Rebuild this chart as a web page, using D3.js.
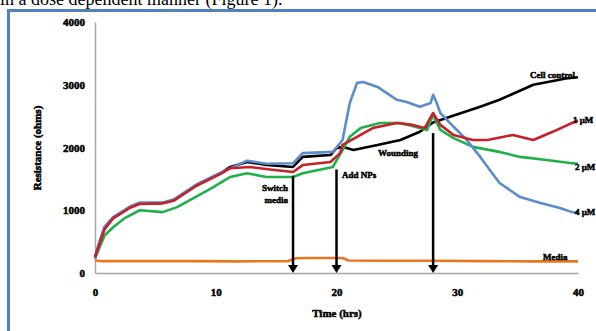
<!DOCTYPE html>
<html><head><meta charset="utf-8">
<script src="https://cdn.jsdelivr.net/npm/d3@7"></script>
<style>body{margin:0;background:#fff;overflow:hidden}svg{display:block}</style>
</head><body>
<script>
const xTicks = [0, 10, 20, 30, 40];
const yTicks = [0, 1000, 2000, 3000, 4000];
const seriesNames = ["Media", "Cell control", "1 \u03bcM", "2 \u03bcM", "4 \u03bcM"];

const mediaT = [0, 0.5, 4, 8, 12, 16, 16.6, 18, 20.5, 21, 24, 28, 32, 36, 40];
const mediaV = [200, 190, 190, 190, 185, 190, 235, 240, 240, 200, 195, 195, 190, 185, 185];

const controlT = [0, 0.4, 0.8, 1.5, 2.9, 3.7, 5.6, 6.5, 8.4, 10.4, 11.2, 12.6, 14.2, 16.4, 17.2, 19.5, 20, 20.5, 21.4, 23.4, 25.3, 26.9, 28, 29.4, 31.9, 33.5, 36.3, 39, 40];
const controlV = [250, 500, 730, 880, 1050, 1115, 1115, 1160, 1400, 1590, 1690, 1770, 1720, 1690, 1850, 1880, 1990, 2010, 1960, 2040, 2120, 2250, 2400, 2490, 2650, 2760, 3000, 3100, 3120];

const red1T = [0, 0.4, 0.8, 1.5, 2.9, 3.7, 5.6, 6.5, 8.4, 10.4, 11.2, 12.8, 14.5, 16.4, 17.2, 19.5, 20.3, 20.5, 21.7, 23, 25, 26.3, 27.3, 28, 28.6, 29.7, 31.3, 32.5, 34.6, 36.3, 37.9, 39.5, 40];
const red1V = [250, 480, 700, 870, 1040, 1100, 1110, 1150, 1390, 1580, 1670, 1690, 1650, 1610, 1720, 1770, 1910, 2040, 2170, 2310, 2390, 2360, 2310, 2550, 2360, 2200, 2120, 2120, 2200, 2120, 2250, 2390, 2430];

const green2T = [0, 0.4, 0.8, 1.5, 2.5, 3.7, 5.6, 6.8, 8.5, 9.8, 11.2, 12.6, 14.2, 16.4, 17.2, 19.7, 20.5, 21.1, 22, 23.6, 25.3, 26.9, 27.5, 28, 28.6, 29.7, 31.3, 33.5, 35.2, 37.4, 39.5, 40];
const green2V = [230, 420, 600, 730, 880, 1000, 970, 1050, 1230, 1370, 1530, 1590, 1530, 1530, 1590, 1690, 1960, 2170, 2310, 2390, 2390, 2310, 2280, 2520, 2280, 2150, 2010, 1930, 1850, 1800, 1750, 1740];

const blue4T = [0, 0.4, 0.8, 1.5, 2.9, 3.7, 5.6, 6.5, 8.4, 10.4, 12.6, 14.2, 16.4, 17.2, 19.7, 20.5, 21.1, 21.7, 22.2, 23.4, 25, 25.8, 26.9, 27.8, 28, 28.3, 28.6, 29.7, 30.8, 31.9, 32.7, 33.5, 35.2, 36.9, 38.5, 39.5, 40];
const blue4V = [230, 520, 740, 890, 1060, 1120, 1120, 1170, 1410, 1600, 1790, 1740, 1750, 1910, 1930, 2120, 2710, 3030, 3045, 2965, 2760, 2725, 2650, 2710, 2840, 2710, 2550, 2330, 2120, 1850, 1640, 1435, 1210, 1115, 1036, 970, 960];

const arrowT = [16.4, 20, 28];
const arrowTopV = [1550, 1650, 2230];
const annotTexts = ["Switch", "media", "Add NPs", "Wounding"];

const W = 596, H = 331;
const svg = d3.select("body").append("svg").attr("width", W).attr("height", H);

// top cropped paragraph text (cropped in the reference too)
svg.append("text").attr("x", 0).attr("y", 5)
  .attr("font-family", "'Liberation Serif','Times New Roman',serif").attr("font-size", 18)
  .text("in a dose dependent manner (Figure 1).");

// blue frame
svg.append("rect").attr("x", 8.5).attr("y", 10.5).attr("width", 620).attr("height", 340)
  .attr("fill", "none").attr("stroke", "#4F81BD").attr("stroke-width", 3);

const x = d3.scaleLinear().domain([0, 40]).range([95, 578]);
const y = d3.scaleLinear().domain([0, 4000]).range([273, 22]);

const font = "'Liberation Serif','Times New Roman',serif";
const heavy = sel => sel.attr("font-family", font).attr("font-weight", "bold").attr("fill", "#000")
  .attr("stroke", "#000").attr("stroke-width", 0.5);

// axes
const yAxis = svg.append("g").attr("transform", "translate(95,0)")
  .call(d3.axisLeft(y).tickValues(yTicks).tickSize(0).tickPadding(10).tickFormat(d3.format("d")));
yAxis.select(".domain").attr("stroke", "#A6A6A6").attr("stroke-width", 1.5);
heavy(yAxis.selectAll("text").attr("font-size", 11));

const xAxis = svg.append("g").attr("transform", "translate(0,273)")
  .call(d3.axisBottom(x).tickValues(xTicks).tickSize(0).tickPadding(15));
xAxis.select(".domain").attr("stroke", "#A6A6A6").attr("stroke-width", 1.5);
heavy(xAxis.selectAll("text").attr("font-size", 11));

heavy(svg.append("text").attr("x", 337).attr("y", 317).attr("text-anchor", "middle")
  .attr("font-size", 11).text("Time (hrs)"));
heavy(svg.append("text").attr("transform", "translate(41,148) rotate(-90)").attr("text-anchor", "middle")
  .attr("font-size", 11).text("Resistance (ohms)"));

// lines
const line = d3.line().x(d => x(d[0])).y(d => y(d[1]));
const series = [
  {t: mediaT, v: mediaV, c: "#E8781E"},
  {t: controlT, v: controlV, c: "#000000"},
  {t: green2T, v: green2V, c: "#1FB04B"},
  {t: blue4T, v: blue4V, c: "#5B8CCB"},
  {t: red1T, v: red1V, c: "#C8202A"}
];
series.forEach(s => {
  svg.append("path").datum(s.t.map((t, i) => [t, s.v[i]]))
    .attr("d", line).attr("fill", "none").attr("stroke", s.c).attr("stroke-width", 2.6)
    .attr("stroke-linejoin", "round");
});

// arrows
arrowT.forEach((t, i) => {
  const xx = x(t);
  svg.append("line").attr("x1", xx).attr("x2", xx).attr("y1", y(arrowTopV[i])).attr("y2", y(0) - 4)
    .attr("stroke", "#000").attr("stroke-width", 2.5);
  svg.append("path").attr("d", `M${xx - 5},${y(0) - 8} L${xx + 5},${y(0) - 8} L${xx},${y(0)} Z`).attr("fill", "#000");
});

// labels
const lab = (tx, xx, yy, anchor) => heavy(svg.append("text").attr("x", xx).attr("y", yy)
  .attr("text-anchor", anchor || "start").attr("font-size", 9).text(tx));
lab(annotTexts[0], 288, 191, "end");
lab(annotTexts[1], 288, 203, "end");
lab(annotTexts[2], 342, 178);
lab(annotTexts[3], 378, 156);
lab(seriesNames[1], 530, 78);
lab(seriesNames[2], 573, 123);
lab(seriesNames[3], 575, 170);
lab(seriesNames[4], 575, 215);
lab(seriesNames[0], 543, 260);
</script>
</body></html>
